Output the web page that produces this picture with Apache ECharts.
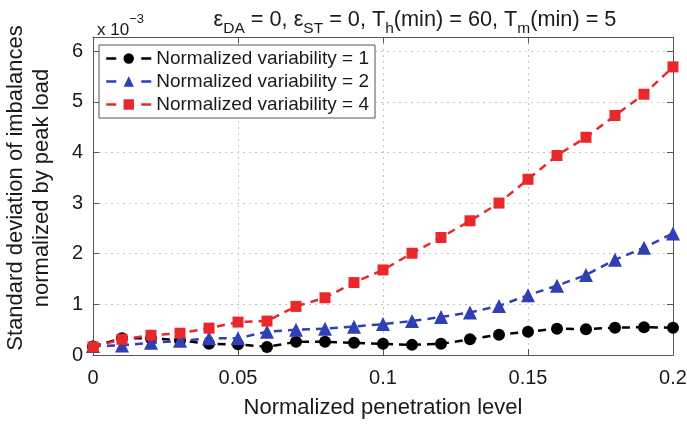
<!DOCTYPE html>
<html><head><meta charset="utf-8">
<script src="https://cdn.jsdelivr.net/npm/echarts@6/dist/echarts.min.js"></script>
<style>html,body{margin:0;padding:0;background:#fff}#c{width:687px;height:425px}</style>
</head><body><div id="c"></div>
<script>
const xValues = [0,0.01,0.02,0.03,0.04,0.05,0.06,0.07,0.08,0.09,0.10,0.11,0.12,0.13,0.14,0.15,0.16,0.17,0.18,0.19,0.20];
const seriesNames = ['Normalized variability = 1','Normalized variability = 2','Normalized variability = 4'];
const var1 = [0.17,0.33,0.33,0.29,0.22,0.21,0.16,0.26,0.26,0.24,0.22,0.20,0.22,0.31,0.40,0.46,0.52,0.51,0.54,0.55,0.54];
const var2 = [0.18,0.19,0.24,0.28,0.33,0.33,0.46,0.50,0.52,0.56,0.61,0.67,0.75,0.84,0.97,1.18,1.37,1.58,1.88,2.12,2.40];
const var4 = [0.16,0.31,0.39,0.43,0.53,0.65,0.67,0.96,1.13,1.43,1.68,2.01,2.32,2.65,3.00,3.47,3.94,4.30,4.73,5.15,5.69];
const xTicks = [0,0.05,0.1,0.15,0.2];
const yTicks = [0,1,2,3,4,5,6];

const FONT = '"Liberation Sans", Arial, sans-serif';
const TXT = '#1a1a1a';
const colors = ['#000000','#2f3fb4','#e8282b'];
const symbols = ['circle','triangle','rect'];
const symSizes = [12,14,11];
const datasets = [var1,var2,var4];

const chart = echarts.init(document.getElementById('c'), null, {renderer:'canvas'});
const pair = arr => arr.map((v,i)=>[xValues[i], v]);

const option = {
  backgroundColor:'#fff',
  animation:false,
  textStyle:{fontFamily:FONT},
  title:[{
    left:410, top:0, textAlign:'center',
    text:'{n|ε}{s|DA}{n| = 0, ε}{s|ST}{n| = 0, T}{s|h}{n|(min) = 60, T}{s|m}{n|(min) = 5}',
    textStyle:{fontWeight:'normal',rich:{
      n:{fontSize:21.7,fontWeight:'normal',fontFamily:FONT,color:TXT,lineHeight:32,verticalAlign:'bottom',padding:[0,0,6,0]},
      s:{fontSize:15.5,fontWeight:'normal',fontFamily:FONT,color:TXT,lineHeight:16,verticalAlign:'bottom'}
    }}
  },{
    left:92, top:8,
    text:'{n|x 10}{p|−3}',
    textStyle:{fontWeight:'normal',rich:{
      n:{fontSize:17,fontWeight:'normal',fontFamily:FONT,color:TXT,lineHeight:26,verticalAlign:'bottom'},
      p:{fontSize:13,fontWeight:'normal',fontFamily:FONT,color:TXT,lineHeight:13,verticalAlign:'top'}
    }}
  }],
  legend:{
    orient:'vertical', left:99, top:45,
    data:seriesNames,
    backgroundColor:'#fff', borderColor:'#555', borderWidth:1, borderRadius:0,
    padding:[4,6,4,6], itemGap:4, itemWidth:45, itemHeight:13,
    lineStyle:{type:[10,25], width:2.5},
    textStyle:{fontSize:19,fontFamily:FONT,color:TXT,padding:[0,0,0,0]},
    selectedMode:false
  },
  grid:{left:93, top:37, right:14, bottom:70, containLabel:false, outerBoundsMode:'none'},
  xAxis:[{
    type:'value', min:0, max:0.2, interval:0.05,
    name:'Normalized penetration level', nameLocation:'middle', nameGap:42,
    nameTextStyle:{fontSize:22,fontFamily:FONT,color:TXT},
    axisLine:{show:true,onZero:false,lineStyle:{color:'#555',width:1}},
    axisTick:{show:true,inside:true,length:6,lineStyle:{color:'#555'}},
    axisLabel:{fontSize:20,fontFamily:FONT,color:TXT,margin:13,
      formatter:v=>{const t=xTicks.find(x=>Math.abs(x-v)<1e-9);return t===undefined?'':String(t);}},
    splitLine:{show:true,lineStyle:{color:'#c4c4c4',type:[2,4],width:1}}
  },{
    type:'value', position:'top', min:0, max:0.2, interval:0.05,
    axisLine:{show:true,onZero:false,lineStyle:{color:'#555',width:1}},
    axisTick:{show:true,inside:true,length:6,lineStyle:{color:'#555'}},
    axisLabel:{show:false}, splitLine:{show:false}
  }],
  yAxis:[{
    type:'value', min:0, max:6.28, interval:1,
    name:'Standard deviation of imbalances\nnormalized by peak load',
    nameLocation:'middle', nameGap:38, nameRotate:90,
    nameTextStyle:{fontSize:22,fontFamily:FONT,color:TXT,lineHeight:26,padding:[0,0,0,16]},
    axisLine:{show:true,onZero:false,lineStyle:{color:'#555',width:1}},
    axisTick:{show:true,inside:true,length:6,lineStyle:{color:'#555'}},
    axisLabel:{fontSize:20,fontFamily:FONT,color:TXT,margin:10,showMaxLabel:false,
      formatter:v=>{const t=yTicks.find(x=>Math.abs(x-v)<1e-9);return t===undefined?'':String(t);}},
    splitLine:{show:true,lineStyle:{color:'#c4c4c4',type:[2,4],width:1}}
  },{
    type:'value', position:'right', min:0, max:6.28, interval:1,
    axisLine:{show:true,onZero:false,lineStyle:{color:'#555',width:1}},
    axisTick:{show:true,inside:true,length:6,lineStyle:{color:'#555'}},
    axisLabel:{show:false}, splitLine:{show:false}
  }],
  series: datasets.map((d,i)=>({
    name:seriesNames[i], type:'line', xAxisIndex:0, yAxisIndex:0,
    data:pair(d),
    symbol:symbols[i], symbolSize:symSizes[i], showAllSymbol:true,
    lineStyle:{color:colors[i], width:2.5, type:[8,6]},
    itemStyle:{color:colors[i]},
    z: 10 + i
  }))
};
chart.setOption(option);
</script></body></html>
